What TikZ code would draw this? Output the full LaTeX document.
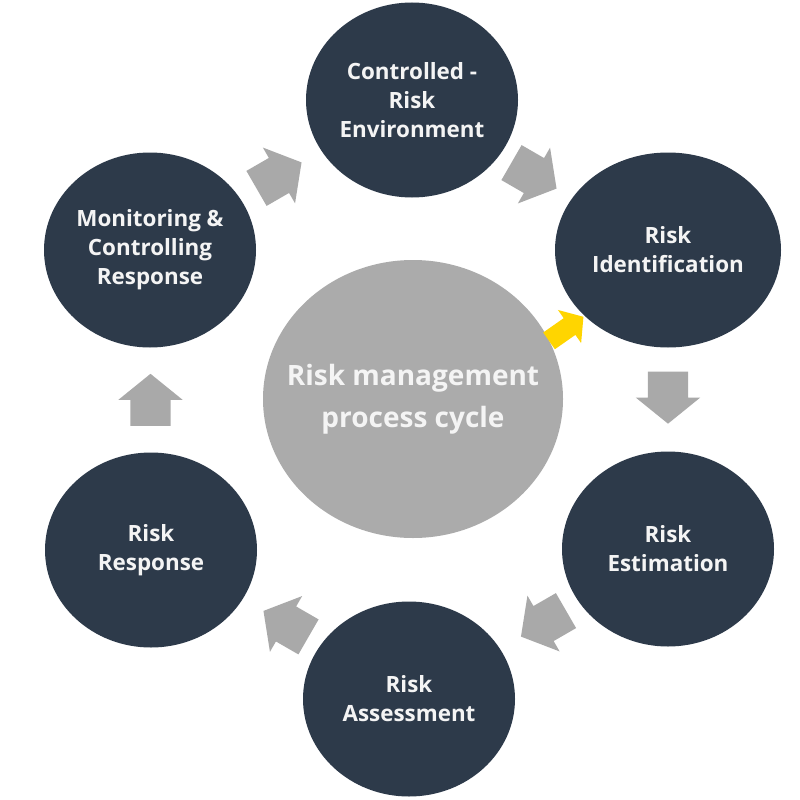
\documentclass[tikz,border=0pt]{standalone}
\usepackage{fontspec}
\setmainfont{Open Sans}
\usetikzlibrary{shapes.geometric,shapes.arrows,calc}
\definecolor{navy}{HTML}{2D3A4A}
\definecolor{hubgray}{HTML}{ABABAB}
\definecolor{arrowgray}{HTML}{A9A9A9}
\definecolor{sunny}{HTML}{FFD500}
\definecolor{paletext}{HTML}{F4F4F4}
\tikzset{
  stage/.style={ellipse, fill=navy, draw=none, inner sep=0pt,
    minimum width=212pt, minimum height=195pt, align=center,
    text=paletext, font=\bfseries\fontsize{22.4}{29}\selectfont},
  hub/.style={ellipse, fill=hubgray, draw=none, inner sep=0pt,
    minimum width=300pt, minimum height=278pt},
  hubtext/.style={align=center, inner sep=0pt,
    text=paletext, font=\bfseries\fontsize{28}{42}\selectfont},
  garrow/.style={single arrow, fill=arrowgray, draw=none,
    inner xsep=0pt, inner ysep=20pt,
    minimum height=52pt,
    single arrow head extend=12pt, single arrow tip angle=102},
  yarrow/.style={single arrow, fill=sunny, draw=none,
    inner xsep=0pt, inner ysep=10pt,
    minimum height=42pt,
    single arrow head extend=10pt, single arrow tip angle=100}
}
\begin{document}
\begin{tikzpicture}[x=1pt,y=-1pt]
\useasboundingbox[fill=white] (0,0) rectangle (800,800);
\node[hub] (hub) at (413,399) {};
\node[hubtext] (hubtxt) at (hub.center) {Risk management\\process cycle};
\node[stage] (top) at (412,100) {Controlled -\\Risk\\Environment};
\node[stage, minimum width=226pt] (ident) at (668,250) {Risk\\Identification};
\node[stage] (est) at (668,549) {Risk\\Estimation};
\node[stage] (assess) at (409,699) {Risk\\Assessment};
\node[stage] (resp) at (151,550) {Risk\\Response};
\node[stage] (mon) at (150,250) {Monitoring \&\\Controlling\\Response};
\node[garrow, rotate=30, xshift=-7pt] (a1) at ($(mon)!0.5!(top)+(-3,1)$) {};
\node[garrow, rotate=-30, xshift=-7pt] (a2) at ($(top)!0.5!(ident)+(-7,0)$) {};
\node[garrow, rotate=-90, xshift=-7pt] (a3) at ($(ident)!0.5!(est)+(0,-3)$) {};
\node[garrow, rotate=-150, xshift=-7pt] (a4) at ($(est)!0.5!(assess)+(6,-1)$) {};
\node[garrow, rotate=150, xshift=-7pt] (a5) at ($(assess)!0.5!(resp)+(7,0)$) {};
\node[garrow, rotate=90, xshift=-7pt] (a6) at ($(resp)!0.5!(mon)+(0,1)$) {};
\node[yarrow, rotate=35, xshift=-4pt] (ay) at (566,329) {};
\end{tikzpicture}
\end{document}
